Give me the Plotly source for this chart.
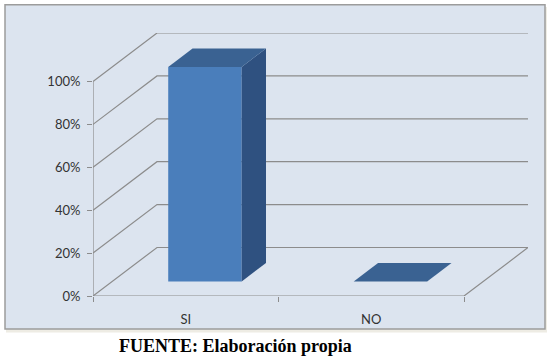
import plotly.graph_objects as go

# ---- data ----
categories = ["SI", "NO"]
values = [100, 0]
y_tick_values = [0, 20, 40, 60, 80, 100]
y_tick_labels = ["0%", "20%", "40%", "60%", "80%", "100%"]
source_note = "FUENTE: Elaboración propia"

# ---- 3D oblique projection settings (in axis units) ----
DX = 0.345      # depth shift along x (category units)
DY = 22.6       # depth shift along y (percent units)
Z0, Z1 = 0.30, 0.68   # bar front/back depth fractions
HALF_W = 0.198        # half bar width (category units)

W, H = 552, 358
ML, MR, MT, MB = 93, 24, 33, 61.5
PW, PH = W - ML - MR, H - MT - MB

def px_x(p):
    return (p - ML) / PW

def px_y(p):
    return (H - MB - p) / PH

n = len(categories)
x_lo, x_hi = -0.5, n - 0.5

fig = go.Figure()

# gridlines: left wall diagonals + back wall horizontals
gx, gy = [], []
for v in y_tick_values:
    gx += [x_lo, x_lo + DX, x_hi + DX, None]
    gy += [v, v + DY, v + DY, None]
# floor front edge and right floor edge
gx += [x_lo, x_hi, x_hi + DX, None]
gy += [0, 0, DY, None]
# front vertical axis
gx += [x_lo, x_lo, None]
gy += [0, max(y_tick_values), None]
fig.add_trace(go.Scatter(x=gx, y=gy, mode="lines",
                         line=dict(color="#8c8c8c", width=1.2),
                         hoverinfo="skip", showlegend=False))

FRONT, SIDE, TOP = "#4a7ebb", "#2f5180", "#3a6292"

def face(xs, ys, color):
    fig.add_trace(go.Scatter(x=xs + [xs[0]], y=ys + [ys[0]], mode="lines",
                             fill="toself", fillcolor=color,
                             line=dict(width=0, color=color),
                             hoverinfo="skip", showlegend=False))

for i, v in enumerate(values):
    xa = i - HALF_W + Z0 * DX
    xb = i + HALF_W + Z0 * DX
    y0 = Z0 * DY
    ddx = (Z1 - Z0) * DX
    ddy = (Z1 - Z0) * DY
    if v > 0:
        face([xa, xb, xb, xa], [y0, y0, y0 + v, y0 + v], FRONT)
        face([xb, xb + ddx, xb + ddx, xb], [y0, y0 + ddy, y0 + ddy + v, y0 + v], SIDE)
    face([xa, xb, xb + ddx, xa + ddx],
         [y0 + v, y0 + v, y0 + v + ddy, y0 + v + ddy], TOP)

font_ticks = dict(family="Lato, 'Open Sans', sans-serif", size=13, color="#333333")

fig.update_layout(
    width=W, height=H,
    margin=dict(l=ML, r=MR, t=MT, b=MB, pad=0),
    paper_bgcolor="white",
    plot_bgcolor="rgba(0,0,0,0)",
    showlegend=False,
    xaxis=dict(range=[x_lo, x_hi + DX], showgrid=False, zeroline=False, showline=False,
               tickmode="array", tickvals=list(range(n)), ticktext=categories,
               ticks="", tickfont=font_ticks, ticklabelstandoff=14, fixedrange=True,
               minor=dict(tickmode="array", tickvals=[x_lo + k for k in range(n + 1)],
                          ticks="outside", ticklen=5, tickcolor="#8c8c8c",
                          tickwidth=1.2, showgrid=False)),
    yaxis=dict(range=[0, 100 + DY], showgrid=False, zeroline=False, showline=False,
               tickmode="array", tickvals=y_tick_values, ticktext=y_tick_labels,
               ticks="outside", ticklen=5, tickcolor="#8c8c8c", tickwidth=1.2,
               tickfont=font_ticks, ticklabelstandoff=4, fixedrange=True),
    shapes=[
        dict(type="rect", xref="paper", yref="paper", layer="below",
             x0=px_x(6), x1=px_x(547), y0=px_y(333), y1=px_y(7),
             fillcolor="#eeece4", line=dict(width=0)),
        dict(type="rect", xref="paper", yref="paper", layer="below",
             x0=px_x(5), x1=px_x(545), y0=px_y(329.5), y1=px_y(4.7),
             fillcolor="#dce4ef", line=dict(color="#9c9c9c", width=1.5)),
    ],
    annotations=[
        dict(text="<b>" + source_note + "</b>", xref="paper", yref="paper",
             x=px_x(117), y=px_y(347), xanchor="left", yanchor="middle",
             showarrow=False,
             font=dict(family="'Liberation Serif', 'Times New Roman', serif",
                       size=18, color="black")),
    ],
)

fig.write_html("out.html", config={"displayModeBar": False})
